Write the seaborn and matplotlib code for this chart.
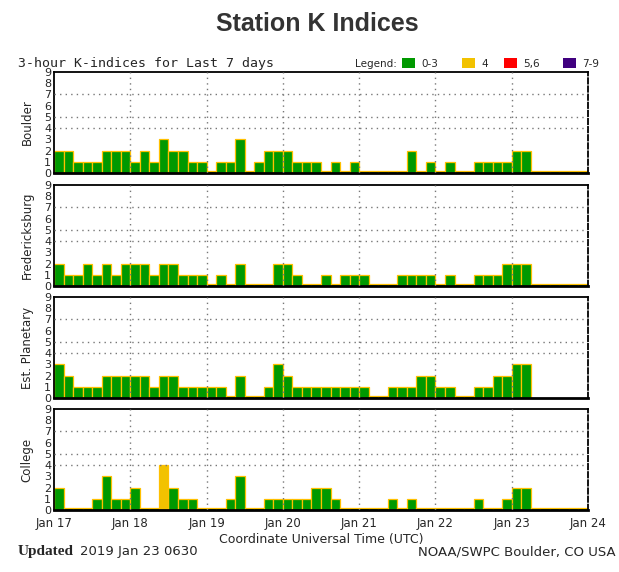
import numpy as np
import pandas as pd
import matplotlib
matplotlib.use("Agg")
import matplotlib.pyplot as plt
from matplotlib.patches import Rectangle
import seaborn as sns

# --------------------------------
# DATA (3-hour K-indices, 8 per day, Jan 17 - Jan 23)
# --------------------------------

day_labels = ["Jan 17", "Jan 18", "Jan 19", "Jan 20", "Jan 21", "Jan 22", "Jan 23", "Jan 24"]
stations = ["Boulder", "Fredericksburg", "Est. Planetary", "College"]

boulder = [2, 2, 1, 1, 1, 2, 2, 2,
           1, 2, 1, 3, 2, 2, 1, 1,
           0, 1, 1, 3, 0, 1, 2, 2,
           2, 1, 1, 1, 0, 1, 0, 1,
           0, 0, 0, 0, 0, 2, 0, 1,
           0, 1, 0, 0, 1, 1, 1, 1,
           2, 2, 0, 0, 0, 0, 0, 0]

fredericksburg = [2, 1, 1, 2, 1, 2, 1, 2,
                  2, 2, 1, 2, 2, 1, 1, 1,
                  0, 1, 0, 2, 0, 0, 0, 2,
                  2, 1, 0, 0, 1, 0, 1, 1,
                  1, 0, 0, 0, 1, 1, 1, 1,
                  0, 1, 0, 0, 1, 1, 1, 2,
                  2, 2, 0, 0, 0, 0, 0, 0]

planetary = [3, 2, 1, 1, 1, 2, 2, 2,
             2, 2, 1, 2, 2, 1, 1, 1,
             1, 1, 0, 2, 0, 0, 1, 3,
             2, 1, 1, 1, 1, 1, 1, 1,
             1, 0, 0, 1, 1, 1, 2, 2,
             1, 1, 0, 0, 1, 1, 2, 2,
             3, 3, np.nan, np.nan, np.nan, np.nan, np.nan, np.nan]

college = [2, 0, 0, 0, 1, 3, 1, 1,
           2, 0, 0, 4, 2, 1, 1, 0,
           0, 0, 1, 3, 0, 0, 1, 1,
           1, 1, 1, 2, 2, 1, 0, 0,
           0, 0, 0, 1, 0, 1, 0, 0,
           0, 0, 0, 0, 1, 0, 0, 1,
           2, 2, 0, 0, 0, 0, 0, 0]

station_values = [boulder, fredericksburg, planetary, college]

levels = ["0-3", "4", "5,6", "7-9"]
level_colors = ["#009900", "#f2c200", "#ff0000", "#40007f"]
edge_color = "#ffc000"
grid_k = [4, 5, 7]

n_slots = 56

# --------------------------------
# FIGURE
# --------------------------------

sns.set_style("white")
plt.rcParams["font.family"] = ["DejaVu Sans"]
plt.rcParams["axes.grid"] = False

fig = plt.figure(figsize=(6.19, 5.72), dpi=100)
W, H = 619, 572


def fx(px):
    return px / W


def fy(py):
    return 1 - py / H


def level_of(k):
    if k <= 3:
        return "0-3"
    if k == 4:
        return "4"
    if k <= 6:
        return "5,6"
    return "7-9"


panel_tops = [72, 185, 297, 409]
panel_h = 101
ax_left, ax_w = 54, 534

palette = dict(zip(levels, level_colors))
day_edges = [-0.5 + 8 * d for d in range(len(day_labels))]
dot = (0, (1, 3))

for i, (name, values) in enumerate(zip(stations, station_values)):
    top = panel_tops[i]
    ax = fig.add_axes([fx(ax_left), fy(top + panel_h), ax_w / W, panel_h / H])

    df = pd.DataFrame({"slot": range(n_slots), "k": values}).dropna()
    df["level"] = df["k"].apply(level_of)
    df["shown"] = df["k"].clip(lower=0.15)

    sns.barplot(
        data=df, x="slot", y="shown", hue="level",
        order=list(range(n_slots)), hue_order=levels, palette=palette,
        dodge=False, width=1.0, saturation=1, edgecolor=edge_color, linewidth=0.9,
        legend=False, ax=ax
    )

    ax.set_xlim(-0.5, n_slots - 0.5)
    ax.set_ylim(0, 9)

    ax.set_xticks(day_edges)
    ax.set_xticks(list(range(n_slots)), minor=True)
    ax.set_yticks(range(10))
    ax.set_yticklabels([str(v) for v in range(10)], fontsize=8)
    ax.grid(False, which="both")

    # dotted guides: day boundaries and K = 4, 5, 7
    for d in day_edges[1:-1]:
        ax.axvline(d, linestyle=dot, color="#777777", linewidth=1, zorder=3)
    for k in grid_k:
        ax.axhline(k, linestyle=dot, color="#777777", linewidth=1, zorder=3)

    ax.tick_params(axis="y", length=0, pad=2)
    ax.tick_params(axis="x", which="major", length=0, pad=5)
    ax.tick_params(axis="x", which="minor", direction="in", length=2.5,
                   color=edge_color, width=1)

    if i == len(stations) - 1:
        ax.set_xticklabels(day_labels, fontsize=8.5)
        ax.set_xlabel("Coordinate Universal Time (UTC)", fontsize=9, labelpad=2)
    else:
        ax.set_xticklabels([])
        ax.set_xlabel("")

    ax.set_ylabel(name, fontsize=8.5)
    ax.yaxis.set_label_coords(-0.038, 0.5)

    for side in ["left", "top"]:
        ax.spines[side].set_color("black")
        ax.spines[side].set_linewidth(1.3)
    ax.spines["bottom"].set_color("black")
    ax.spines["bottom"].set_linewidth(2)
    ax.spines["right"].set_color("black")
    ax.spines["right"].set_linewidth(1.3)
    ax.spines["right"].set_linestyle((0, (3, 1.5)))

# --------------------------------
# TITLES, LEGEND, FOOTER
# --------------------------------

fig.text(fx(317), fy(24), "Station K Indices", ha="center", va="center",
         fontsize=18, fontweight="bold", color="#333333",
         family=["Liberation Sans", "DejaVu Sans"])

fig.text(fx(18), fy(63), "3-hour K-indices for Last 7 days", ha="left", va="center",
         fontsize=9.5, family=["DejaVu Sans Mono"])

fig.text(fx(355), fy(64), "Legend:", ha="left", va="center", fontsize=7.5)
legend_x = [402, 462, 504, 563]
for lx, lab, col in zip(legend_x, levels, level_colors):
    fig.add_artist(Rectangle((fx(lx), fy(68)), 13 / W, 10 / H,
                             transform=fig.transFigure, facecolor=col, edgecolor="none"))
    fig.text(fx(lx + 19), fy(64), lab, ha="left", va="center", fontsize=7.5)

fig.text(fx(18), fy(552), "Updated", ha="left", va="center", fontsize=11,
         fontweight="bold", family=["Liberation Serif", "DejaVu Serif"])
fig.text(fx(80), fy(552), "2019 Jan 23 0630", ha="left", va="center", fontsize=9.5)
fig.text(fx(616), fy(552), "NOAA/SWPC Boulder, CO USA", ha="right", va="center", fontsize=9.5)

plt.savefig("out.png", dpi=100)
